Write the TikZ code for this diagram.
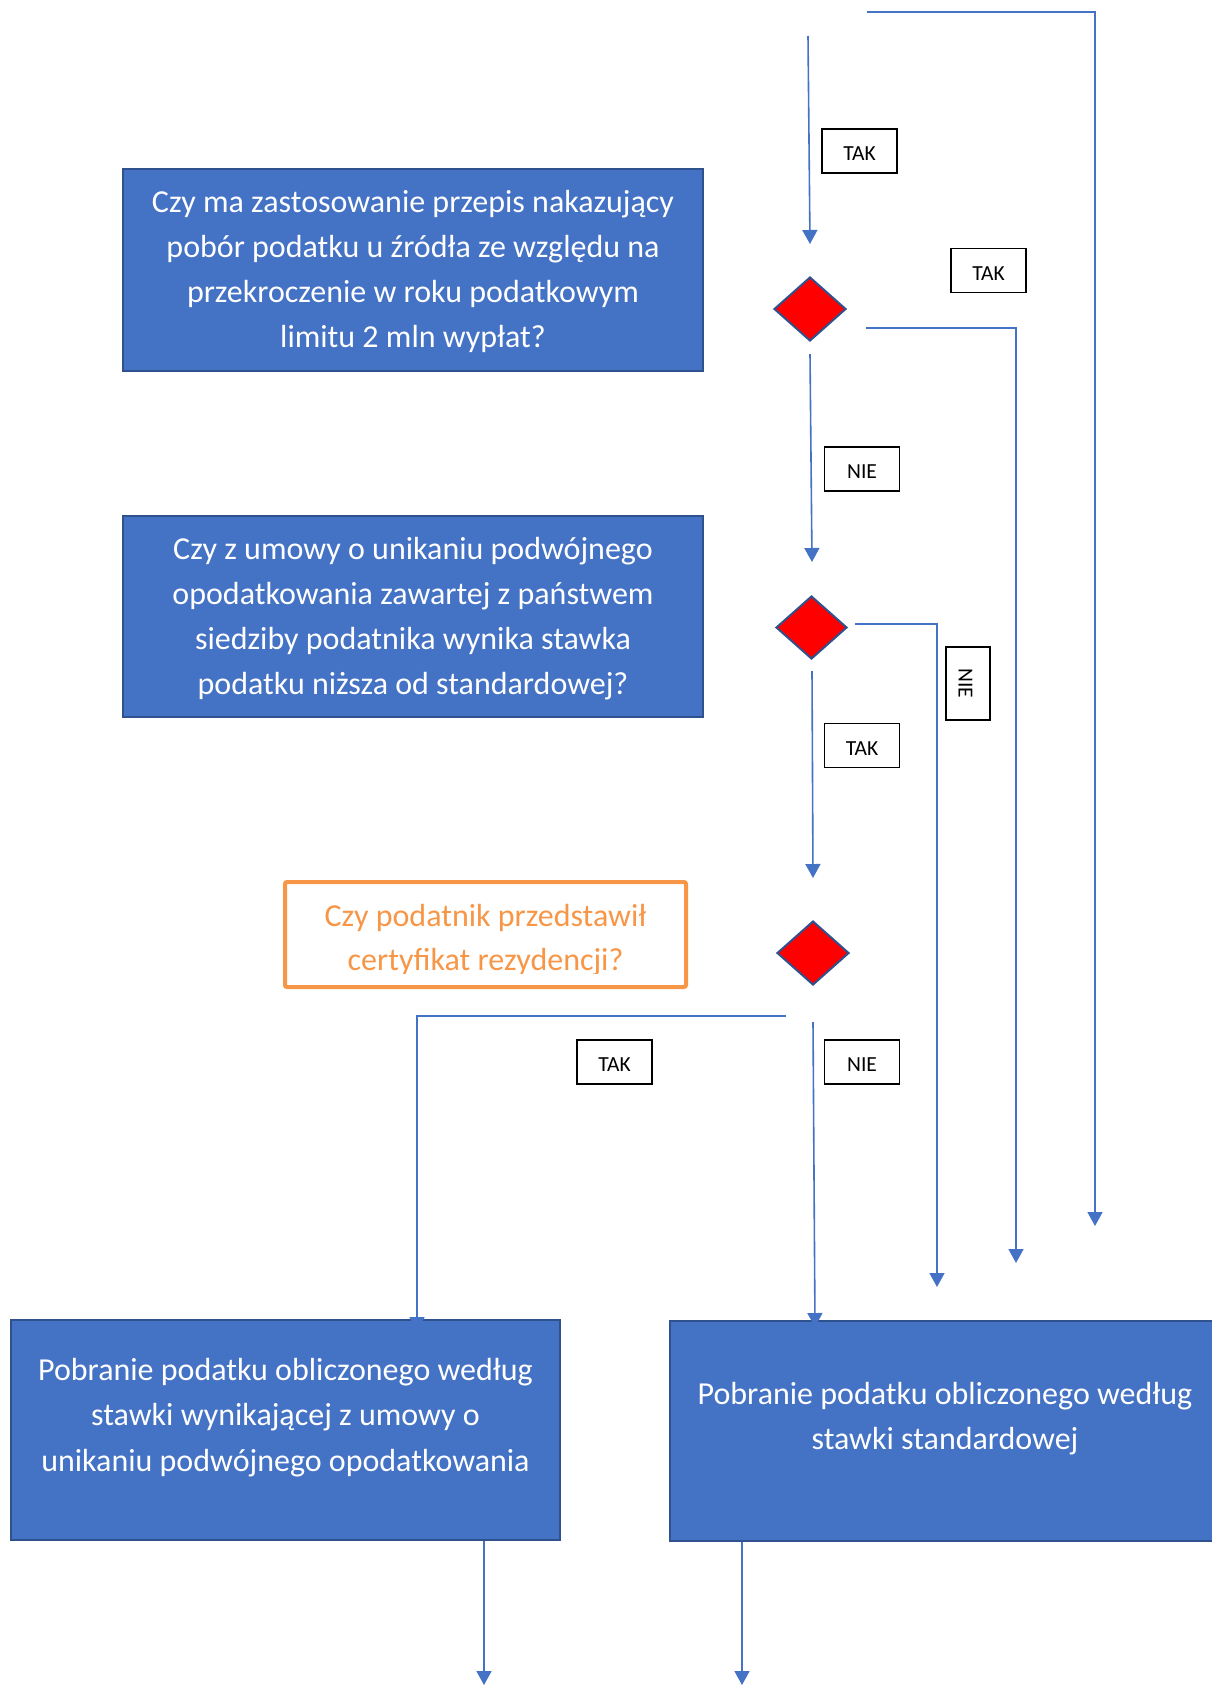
\documentclass[tikz,border=0pt]{standalone}
\usepackage{fontspec}
\setmainfont{Carlito}
\usetikzlibrary{arrows.meta,shapes.geometric}
\definecolor{obox}{HTML}{4472C4}
\definecolor{oedge}{HTML}{2F528F}
\definecolor{oline}{HTML}{4472C4}
\definecolor{oorange}{HTML}{F79646}
\definecolor{ored}{HTML}{FF0000}
\begin{document}
\begin{tikzpicture}[x=1pt,y=-1pt,
  conn/.style={draw=oline, line width=1.6pt, -{Triangle[width=15pt,length=14pt]}},
  lbl/.style={draw=black, line width=1.2pt, fill=white, minimum width=75pt, minimum height=44pt, inner sep=0pt, text height=19pt, text depth=0pt, font=\fontsize{21.5}{25}\selectfont},
  bluebox/.style={draw=oedge, fill=obox, line width=2.5pt, inner sep=0pt},
  dec/.style={diamond, draw=oedge, fill=ored, line width=2pt, minimum width=72pt, minimum height=64pt, inner sep=0pt},
  wtext/.style={text=white, align=center, font=\fontsize{32}{45.2}\selectfont}]
\useasboundingbox (0,0) rectangle (1212,1686);

% question boxes
\node[bluebox, minimum width=580pt, minimum height=202pt] (qA) at (413,270) {};
\node[wtext] (qAt) at (413,271.5)
  {Czy ma zastosowanie przepis nakazujący\\pobór podatku u źródła ze względu na\\przekroczenie w roku podatkowym\\limitu 2 mln wypłat?};
\node[bluebox, minimum width=580pt, minimum height=201pt] (qB) at (413,616.5) {};
\node[wtext] (qBt) at (413,618.5)
  {Czy z umowy o unikaniu podwójnego\\opodatkowania zawartej z państwem\\siedziby podatnika wynika stawka\\podatku niższa od standardowej?};
\node[draw=oorange, line width=4pt, rounded corners=2pt, minimum width=401pt, minimum height=105pt] (qC) at (485.5,934.5) {};
\begin{scope}
  \clip (285,882) rectangle (686,973);
  \node[text=oorange, align=center, font=\fontsize{32}{44.5}\selectfont] (qCt) at (485.5,940)
    {Czy podatnik przedstawił\\certyfikat rezydencji?};
\end{scope}

% result boxes
\node[bluebox, minimum width=549pt, minimum height=220pt] (rL) at (285.5,1430) {};
\node[wtext] (rLt) at (285.5,1417.5) {Pobranie podatku obliczonego według\\stawki wynikającej z umowy o\\unikaniu podwójnego opodatkowania};
\node[bluebox, minimum width=552pt, minimum height=220pt] (rR) at (946,1431) {};
\node[wtext] (rRt) at (945,1418.5) {Pobranie podatku obliczonego według\\stawki standardowej};

% diamonds
\node[dec] (d1) at (810,309) {};
\node[dec, minimum width=71pt, minimum height=63pt] (d2) at (811.5,627.5) {};
\node[dec] (d3) at (813,953) {};

% connector end points
\coordinate (a1s) at (867,12);  \coordinate (a1k) at (1095,12);  \coordinate (a1e) at (1095,1226);
\coordinate (a2s) at (808,36);  \coordinate (a2e) at (810,244);
\coordinate (a3s) at (866,328); \coordinate (a3k) at (1016,328); \coordinate (a3e) at (1016,1263);
\coordinate (a4s) at (810,354); \coordinate (a4e) at (812,562);
\coordinate (a5s) at (855,624); \coordinate (a5k) at (937,624);  \coordinate (a5e) at (937,1287);
\coordinate (a6s) at (812,671); \coordinate (a6e) at (813,878);
\coordinate (a7s) at (786,1016);\coordinate (a7k) at (417,1016); \coordinate (a7e) at (417,1331);
\coordinate (a8s) at (813,1022);\coordinate (a8e) at (815,1327);
\coordinate (a9e) at (484,1685);
\coordinate (a10e) at (742,1685);

\draw[conn] (a1s) -- (a1k) -- (a1e);
\draw[conn] (a2s) -- (a2e);
\draw[conn] (a3s) -- (a3k) -- (a3e);
\draw[conn] (a4s) -- (a4e);
\draw[conn] (a5s) -- (a5k) -- (a5e);
\draw[conn] (a6s) -- (a6e);
\draw[conn] (a7s) -- (a7k) -- (a7e);
\draw[conn] (a8s) -- (a8e);
\draw[conn] (rL.south -| a9e) -- (a9e);
\draw[conn] (rR.south -| a10e) -- (a10e);

% labels
\node[lbl] (t1) at (859.5,151) {TAK};
\node[lbl] (t2) at (988.5,270.5) {TAK};
\node[lbl] (n1) at (862,469) {NIE};
\node[lbl, minimum width=73pt, rotate=-90] (n2) at (968,683.5) {NIE};
\node[lbl] (t3) at (862,745.5) {TAK};
\node[lbl] (t4) at (614.5,1062) {TAK};
\node[lbl] (n3) at (862,1062) {NIE};
\end{tikzpicture}
\end{document}
